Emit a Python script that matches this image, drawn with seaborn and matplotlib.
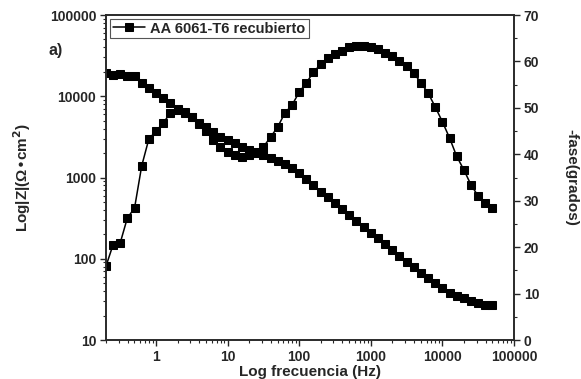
import matplotlib.pyplot as plt
import seaborn as sns
import pandas as pd

# frequencies (Hz), 10 points per decade
freq = [0.2, 0.251, 0.316, 0.398, 0.501, 0.631, 0.794, 1.0,
        1.26, 1.58, 2.0, 2.51, 3.16, 3.98, 5.01, 6.31, 7.94, 10.0,
        12.6, 15.8, 20.0, 25.1, 31.6, 39.8, 50.1, 63.1, 79.4, 100.0,
        126, 158, 200, 251, 316, 398, 501, 631, 794, 1000,
        1260, 1580, 2000, 2510, 3160, 3980, 5010, 6310, 7940, 10000,
        12600, 15800, 20000, 25100, 31600, 39800, 50000]

# impedance modulus (ohm*cm2)
z_mod = [19300, 18200, 18800, 17800, 17800, 14600, 12600, 11000,
         9400, 8200, 7000, 6200, 5500, 4700, 4200, 3600, 3150, 2900,
         2650, 2400, 2200, 2000, 1900, 1750, 1600, 1450, 1300, 1140,
         960, 810, 665, 575, 485, 410, 345, 292, 246, 207,
         180, 152, 128, 108, 91, 79, 67, 58, 50, 44,
         38, 35, 33, 30, 28.5, 27, 27]

# -phase (degrees)
fase = [15.9, 20.5, 20.9, 26.3, 28.4, 37.5, 43.3, 45.0,
        46.7, 48.9, 49.5, 49.1, 48.0, 46.5, 45.0, 43.0, 41.6, 40.5,
        39.8, 39.4, 39.8, 40.5, 41.6, 43.7, 45.9, 48.9, 50.6, 53.4,
        55.4, 57.7, 59.4, 60.7, 61.6, 62.2, 63.1, 63.3, 63.3, 63.1,
        62.7, 61.8, 61.2, 60.2, 59.0, 57.5, 55.4, 53.2, 50.2, 47.0,
        43.5, 39.6, 36.6, 33.4, 31.0, 29.5, 28.4]

df = pd.DataFrame({'freq': freq, 'z': z_mod, 'fase': fase})

sns.set_style('ticks')
plt.rcParams['font.family'] = ['Liberation Sans', 'DejaVu Sans']
plt.rcParams['font.weight'] = 'bold'

fig = plt.figure(figsize=(5.81, 3.79), dpi=100)
ax = fig.add_axes([0.1824, 0.1029, 0.7023, 0.8575])
ax2 = ax.twinx()

sns.lineplot(x='freq', y='z', data=df, ax=ax, color='black', marker='s',
             markersize=5.3, markeredgecolor='black', linewidth=1.1,
             label='AA 6061-T6 recubierto')
sns.lineplot(x='freq', y='fase', data=df, ax=ax2, color='black', marker='s',
             markersize=5.3, markeredgecolor='black', linewidth=1.1, legend=False)

ax.set_xscale('log')
ax.set_yscale('log')
ax.set_xlim(0.2, 100000)
ax.set_ylim(10, 100000)
ax2.set_ylim(0, 70)
ax2.set_yticks(range(0, 71, 10))
ax2.set_yticks(range(5, 70, 10), minor=True)

ax.set_xticks([1, 10, 100, 1000, 10000, 100000])
ax.set_xticklabels(['1', '10', '100', '1000', '10000', '100000'])
ax.set_yticks([10, 100, 1000, 10000, 100000])
ax.set_yticklabels(['10', '100', '1000', '10000', '100000'])

for a in (ax, ax2):
    a.tick_params(which='major', length=4, width=1, labelsize=10, direction='out', pad=3)
    a.tick_params(which='minor', length=2, width=0.8, direction='out')
    for s in a.spines.values():
        s.set_visible(True)
        s.set_linewidth(1.2)
        s.set_color('#2a2a2a')

ax.set_xlabel('Log frecuencia (Hz)', fontsize=11, fontweight='bold', labelpad=1)
ax.set_ylabel('Log|Z|(Ω•cm$^{\\mathbf{2}}$)', fontsize=11, fontweight='bold', labelpad=12)
ax2.set_ylabel('-fase(grados)', fontsize=11, fontweight='bold', rotation=270, labelpad=28)

leg = ax.legend(loc='upper left', frameon=True, fancybox=False, edgecolor='#2a2a2a',
                fontsize=10.5, borderpad=0.2, handlelength=2.2, handletextpad=0.4,
                borderaxespad=0.25)
leg.get_frame().set_linewidth(0.8)
for t in leg.get_texts():
    t.set_fontweight('bold')

fig.text(0.083, 0.855, 'a)', fontsize=11.5, fontweight='bold')

fig.savefig('out.png', dpi=100)
